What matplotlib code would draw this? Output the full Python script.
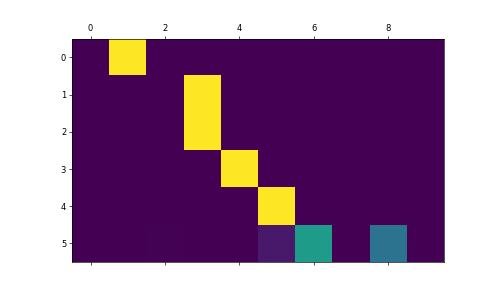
import numpy as np
import matplotlib
matplotlib.use("Agg")
import matplotlib.pyplot as plt

row0 = [0, 1, 0, 0, 0, 0, 0, 0, 0, 0]
row1 = [0, 0, 0, 1, 0, 0, 0, 0, 0, 0]
row2 = [0, 0, 0, 1, 0, 0, 0, 0, 0, 0]
row3 = [0, 0, 0, 0, 1, 0, 0, 0, 0, 0]
row4 = [0, 0, 0, 0, 0, 1, 0, 0, 0, 0]
row5 = [0, 0, 0.004, 0, 0, 0.07, 0.55, 0, 0.38, 0]

A = np.array([row0, row1, row2, row3, row4, row5], dtype=float)

fig = plt.figure(figsize=(8, 4.8), dpi=60)
ax = fig.add_axes((0.15, 0.09, 0.775, 0.775))
ax.matshow(A, cmap="viridis")
fig.savefig("out.png", dpi=60)
